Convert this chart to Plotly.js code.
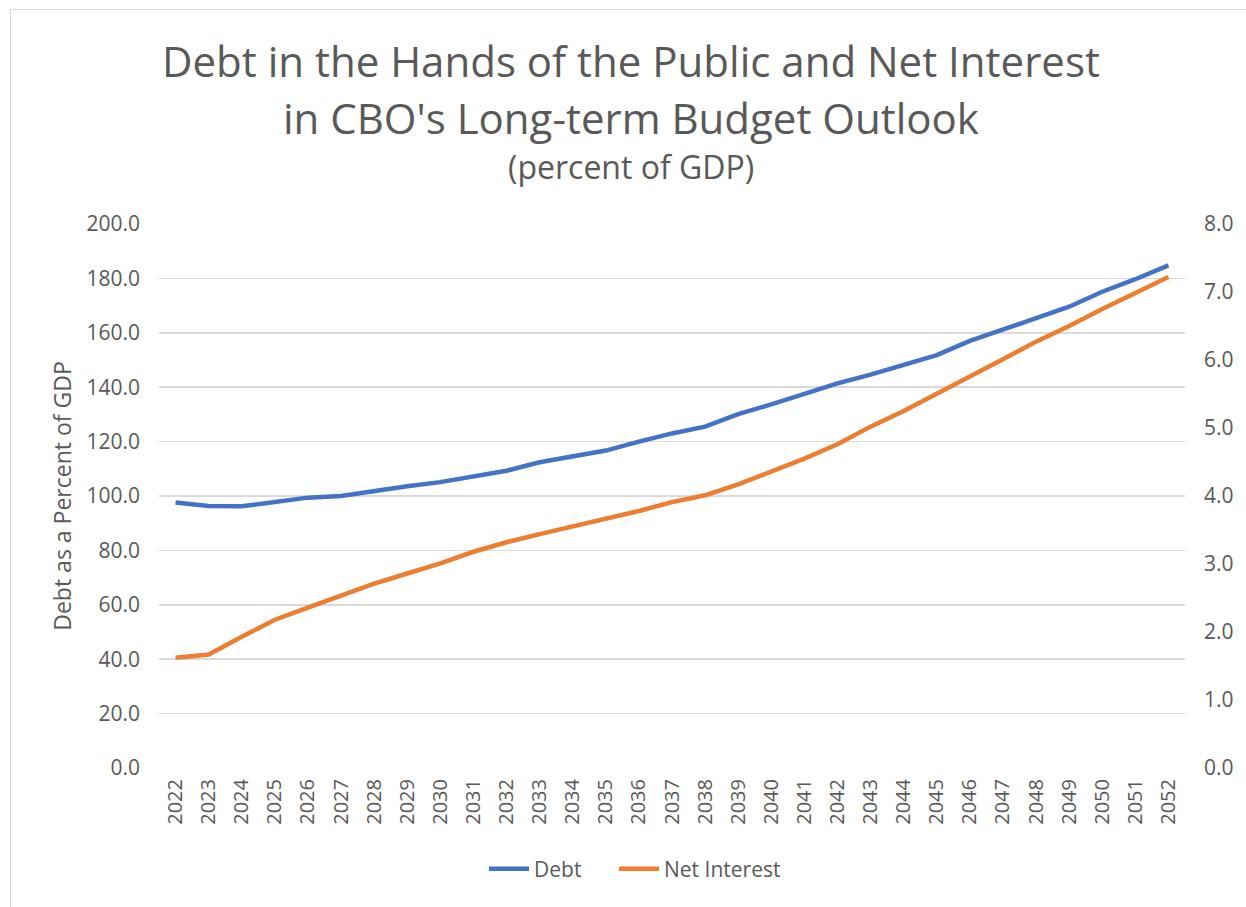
<!DOCTYPE html>
<html>
<head>
<meta charset="utf-8">
<script src="https://cdn.plot.ly/plotly-3.0.1.min.js"></script>
<style>
  html, body { margin: 0; padding: 0; background: #ffffff; }
  #wrap { position: relative; width: 1246px; height: 907px; }
  #chart { width: 1246px; height: 907px; }
  #frame { position: absolute; left: 10px; top: 9px; width: 1240px; height: 910px;
           border-left: 1.5px solid #d9d9d9; border-top: 1.5px solid #d9d9d9; pointer-events: none; }
</style>
</head>
<body>
<div id="wrap">
  <div id="chart"></div>
  <div id="frame"></div>
</div>
<script>
const years = ["2022","2023","2024","2025","2026","2027","2028","2029","2030","2031",
               "2032","2033","2034","2035","2036","2037","2038","2039","2040","2041",
               "2042","2043","2044","2045","2046","2047","2048","2049","2050","2051","2052"];
const debt = [97.6, 96.3, 96.2, 97.9, 99.4, 100.0, 102.0, 103.6, 105.1, 107.3,
              109.3, 112.4, 114.5, 116.7, 120.0, 123.0, 125.5, 130.1, 133.7, 137.5,
              141.4, 144.6, 148.2, 151.8, 157.0, 161.3, 165.3, 169.6, 175.1, 179.7, 184.8];
const netInterest = [1.62, 1.67, 1.93, 2.18, 2.36, 2.53, 2.71, 2.86, 3.01, 3.18,
                     3.32, 3.44, 3.55, 3.66, 3.78, 3.91, 4.01, 4.17, 4.36, 4.55,
                     4.76, 5.02, 5.25, 5.50, 5.75, 6.01, 6.27, 6.50, 6.75, 6.99, 7.22];
const seriesNames = ["Debt", "Net Interest"];
const titleLines = ["Debt in the Hands of the Public and Net Interest",
                    "in CBO's Long-term Budget Outlook",
                    "(percent of GDP)"];
const yTitle = "Debt as a Percent of GDP";

const FONT = "Open Sans, sans-serif";
const GRAY = "#595959";

const traces = [
  { x: years, y: debt, name: seriesNames[0], type: "scatter", mode: "lines",
    line: { color: "#4472C4", width: 4.5 }, yaxis: "y", legend: "legend" },
  { x: years, y: netInterest, name: seriesNames[1], type: "scatter", mode: "lines",
    line: { color: "#ED7D31", width: 4.5 }, yaxis: "y2", legend: "legend2" }
];

const legendBase = { orientation: "h", xanchor: "left", y: -0.186, yanchor: "middle",
                     font: { family: FONT, size: 21, color: GRAY }, itemwidth: 40,
                     bgcolor: "rgba(0,0,0,0)" };

const layout = {
  width: 1246, height: 907,
  margin: { l: 159, r: 61, t: 224, b: 139 },
  paper_bgcolor: "#ffffff", plot_bgcolor: "#ffffff",
  font: { family: FONT, color: GRAY, size: 20 },
  showlegend: true,
  legend: Object.assign({}, legendBase, { x: (484 - 159) / 1026 }),
  legend2: Object.assign({}, legendBase, { x: (614 - 159) / 1026 }),
  xaxis: {
    type: "category", range: [-0.5, 30.5], tickangle: -90,
    showgrid: false, zeroline: false, showline: false, ticks: "",
    tickfont: { family: FONT, size: 20, color: GRAY }, ticklabelstandoff: 6
  },
  yaxis: {
    range: [0, 200], dtick: 20, tickformat: ".1f",
    showgrid: true, gridcolor: "#d9d9d9", gridwidth: 1.5, zeroline: false, showline: false, ticks: "",
    tickfont: { family: FONT, size: 21, color: GRAY }, ticklabelstandoff: 18,
    title: { text: yTitle, font: { family: FONT, size: 23, color: GRAY }, standoff: 8 }
  },
  yaxis2: {
    range: [0, 8], dtick: 1, tickformat: ".1f", overlaying: "y", side: "right",
    showgrid: false, zeroline: false, showline: false, ticks: "",
    tickfont: { family: FONT, size: 21, color: GRAY }, ticklabelstandoff: 18
  },
  annotations: [
    { text: titleLines[0], xref: "paper", yref: "paper", x: 0.46, y: 1.300, xanchor: "center", yanchor: "middle",
      showarrow: false, font: { family: FONT, size: 42, color: GRAY } },
    { text: titleLines[1], xref: "paper", yref: "paper", x: 0.46, y: 1.195, xanchor: "center", yanchor: "middle",
      showarrow: false, font: { family: FONT, size: 42, color: GRAY } },
    { text: titleLines[2], xref: "paper", yref: "paper", x: 0.46, y: 1.105, xanchor: "center", yanchor: "middle",
      showarrow: false, font: { family: FONT, size: 32, color: GRAY } }
  ]
};

Plotly.newPlot("chart", traces, layout, { displayModeBar: false, staticPlot: true });
</script>
</body>
</html>
